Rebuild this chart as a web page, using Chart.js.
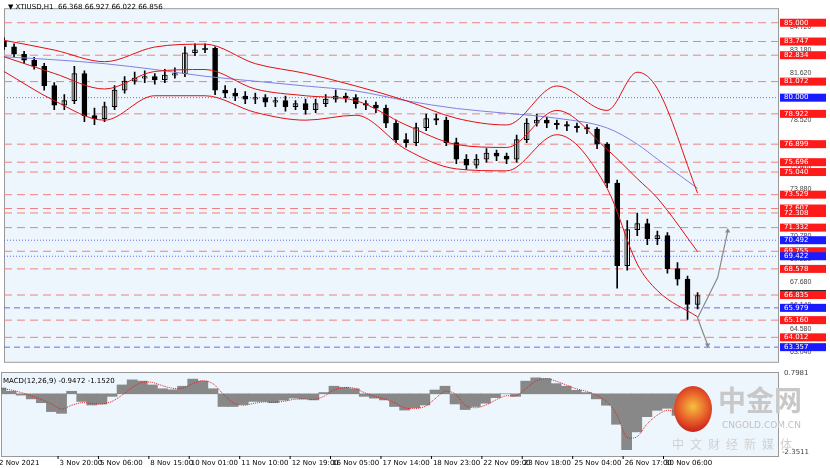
<!DOCTYPE html>
<html><head><meta charset="utf-8">
<script src="https://cdn.jsdelivr.net/npm/chart.js@4/dist/chart.umd.min.js"></script>
<style>
body{margin:0;width:830px;height:468px;background:#fff;font-family:"DejaVu Sans",sans-serif;position:relative;overflow:hidden}
#main{position:absolute;left:0;top:0}
#macd{position:absolute;left:0;top:370px}
.t{position:absolute;font-size:7px;color:#000}
#logo{position:absolute;left:672px;top:380px;width:150px;height:80px}
</style></head><body>
<canvas id="main" width="830" height="370"></canvas>
<canvas id="macd" width="830" height="98"></canvas>
<div class="t" style="left:8px;top:3px">▼ XTIUSD,H1 &nbsp;66.368 66.927 66.022 66.856</div>
<div class="t" style="left:3px;top:377px">MACD(12,26,9) -0.9472 -1.1520</div>
<div id="logo">
  <div style="position:absolute;left:2px;top:6px;width:38px;height:46px;border-radius:50%;background:radial-gradient(circle at 50% 45%,#f5c040 0,#e8602a 45%,#c8201a 80%)"></div>
  <div style="position:absolute;left:46px;top:2px;font:bold 28px/34px 'Noto Sans CJK SC';color:#c8c8c8;white-space:nowrap">中金网</div>
  <div style="position:absolute;left:50px;top:40px;font:9px 'DejaVu Sans';color:#c0c0c0;white-space:nowrap">CNGOLD.COM.CN</div>
  <div style="position:absolute;left:0px;top:56px;font:12px/16px 'Noto Sans CJK SC';color:#d0d0d0;letter-spacing:6px;white-space:nowrap">中文财经新媒体</div>
</div>
<script>
// price candles, one per ~10px column
const closes=[83.4,82.9,82.5,82.1,80.8,79.5,79.8,81.6,78.8,78.6,79.4,80.5,81.1,81.3,81.4,81.2,81.5,81.6,83.0,83.2,
83.3,80.5,80.3,80.1,79.9,80.0,79.7,79.8,79.4,79.6,79.2,79.6,79.9,80.1,80.0,79.6,79.5,79.3,78.3,77.2,
77.0,78.0,78.6,78.5,77.0,75.9,75.5,75.9,76.3,76.1,75.9,77.2,78.3,78.5,78.3,78.2,78.1,78.0,77.9,76.9,
74.3,68.8,71.2,71.6,70.6,70.8,68.6,67.9,66.2,66.8];
const opens=[83.8,83.4,82.9,82.5,82.1,80.8,79.5,79.8,81.6,78.8,78.6,79.4,80.5,81.1,81.3,81.4,81.2,81.5,81.6,83.0,
83.2,83.3,80.5,80.3,80.1,79.9,80.0,79.7,79.8,79.4,79.6,79.2,79.6,79.9,80.1,80.0,79.6,79.5,79.3,78.3,
77.2,77.0,78.0,78.6,78.5,77.0,75.9,75.5,75.9,76.3,76.1,75.9,77.2,78.3,78.5,78.3,78.2,78.1,78.0,77.9,
76.9,74.3,68.8,71.2,71.6,70.6,70.8,68.6,67.9,66.2];
const highs=[84.0,83.6,83.1,82.7,82.3,81.0,80.2,82.1,81.8,79.3,79.7,80.8,81.4,81.7,81.8,81.6,81.9,82.0,83.4,83.6,
83.6,83.4,80.8,80.6,80.4,80.3,80.2,80.0,80.1,79.8,79.9,79.9,80.2,80.5,80.3,80.2,79.8,79.7,79.5,78.5,
77.6,78.3,78.9,78.9,78.7,77.3,76.2,76.2,76.6,76.5,76.3,77.5,78.6,78.9,78.7,78.5,78.4,78.3,78.2,78.0,
77.0,74.5,71.8,72.3,71.9,71.1,71.0,69.0,68.1,67.0];
const lows=[83.2,82.7,82.3,81.9,80.5,79.2,79.2,79.6,78.4,78.2,78.4,79.2,80.3,80.9,81.0,80.9,81.0,81.3,81.4,82.8,
83.0,80.2,80.0,79.8,79.6,79.6,79.4,79.4,79.1,79.2,78.9,79.0,79.4,79.7,79.7,79.3,79.2,79.0,78.0,77.0,
76.7,76.8,77.8,78.2,76.8,75.6,75.2,75.3,75.7,75.8,75.6,75.7,77.0,78.1,78.0,77.9,77.8,77.7,77.6,76.6,
74.0,67.3,68.5,70.8,70.2,70.2,68.3,67.5,65.2,65.9];
// bands and moving average, every 5th column (last one at column 69)
const bandCols=[0,5,10,15,20,25,30,35,40,45,50,55,60,63,65,69];
const bbUpper=[83.83,83.18,82.40,83.38,83.57,82.27,81.62,80.78,79.80,78.63,78.18,80.78,79.15,81.70,80.60,73.63];
const bbMid=[82.73,81.62,80.58,81.75,81.88,80.58,80.13,79.80,78.18,76.88,76.68,79.15,76.55,74.60,73.30,69.73];
const bbLower=[81.75,79.80,78.50,80.13,80.13,79.02,78.50,78.83,76.55,75.25,75.12,77.53,73.95,68.90,67.13,65.38];
const maBlue=[82.73,82.53,82.27,81.88,81.43,81.10,80.78,80.45,79.80,79.28,78.96,78.63,77.98,76.90,75.90,73.95];
// projection arrows
const arrowUp=[[69,65.3],[71,68.0],[72,71.1]];
const arrowDown=[[69,65.3],[70,63.5]];
// MACD histogram and signal
const macdHist=[0.23,0.1,-0.05,-0.2,-0.35,-0.7,-0.77,0.1,-0.3,-0.44,-0.4,-0.1,0.35,0.55,0.5,0.35,0.2,0.16,0.3,0.58,
0.5,0.2,-0.5,-0.5,-0.42,-0.3,-0.3,-0.35,-0.25,-0.17,-0.2,-0.24,0.05,0.3,0.25,0.2,-0.1,-0.17,-0.24,-0.5,
-0.64,-0.55,-0.44,0.15,0.3,-0.4,-0.62,-0.5,-0.37,-0.15,0.0,-0.1,0.5,0.63,0.6,0.4,0.3,0.14,0.05,-0.2,
-0.45,-1.2,-2.2,-1.5,-0.9,-0.65,-0.57,-0.85,-1.05,-1.17];
const macdSignal=[0.2,0.15,0.05,-0.08,-0.22,-0.4,-0.6,-0.45,-0.35,-0.38,-0.4,-0.3,-0.05,0.25,0.45,0.45,0.32,0.22,0.22,0.4,
0.52,0.4,0.0,-0.35,-0.45,-0.38,-0.32,-0.33,-0.3,-0.22,-0.2,-0.22,-0.1,0.15,0.25,0.22,0.05,-0.1,-0.2,-0.35,
-0.55,-0.58,-0.5,-0.2,0.1,0.0,-0.45,-0.55,-0.45,-0.25,-0.08,-0.08,0.2,0.5,0.6,0.5,0.35,0.2,0.1,-0.05,
-0.3,-0.8,-1.7,-1.7,-1.2,-0.85,-0.65,-0.75,-0.95,-1.1];
const xTicks={0:"2 Nov 2021",6:"3 Nov 20:00",10:"5 Nov 06:00",15:"8 Nov 15:00",19:"10 Nov 01:00",24:"11 Nov 10:00",
29:"12 Nov 19:00",33:"16 Nov 05:00",38:"17 Nov 14:00",43:"18 Nov 23:00",48:"22 Nov 09:00",52:"23 Nov 18:00",
57:"25 Nov 04:00",62:"26 Nov 17:00",66:"30 Nov 06:00"};
const greyTicks=[84.72,83.18,81.62,80.06,78.52,76.96,75.40,73.88,72.32,70.78,69.22,67.68,66.14,64.58,63.04];
const redLevels=[85.000,83.747,82.834,81.072,78.922,76.899,75.696,75.040,73.529,72.607,72.308,71.332,69.755,68.578,65.160,64.012];
const blueLevels=[80.000,70.492,69.422,65.979,63.357];
const blackLevels=[66.835];

const N=78, labels=Array.from({length:N},(_,i)=>i);
const sparse=v=>{const a=new Array(N).fill(null);bandCols.forEach((c,k)=>a[c]=v[k]);return a;};
const AXW=52;

const levelPlugin={id:'levels',
  beforeDatasetsDraw(c){const {ctx,chartArea:a,scales:{y}}=c;ctx.save();
    const line=(v,col,dash)=>{const py=y.getPixelForValue(v);ctx.strokeStyle=col;ctx.setLineDash(dash);ctx.lineWidth=1;ctx.beginPath();ctx.moveTo(a.left,py);ctx.lineTo(a.right,py);ctx.stroke();};
    redLevels.forEach(v=>line(v,'#f08080',[8,5]));
    blueLevels.forEach((v,i)=>line(v,'#6a6af0',i<3?[1,2]:[6,4]));
    blackLevels.forEach(v=>line(v,'#f08080',[8,5]));
    ctx.restore();},
  afterDraw(c){const {ctx,chartArea:a,scales:{y}}=c;ctx.save();ctx.font='7px "DejaVu Sans"';ctx.textBaseline='middle';
    const box=(v,bg)=>{const py=y.getPixelForValue(v);ctx.fillStyle=bg;ctx.fillRect(a.right+2,py-4,46,8);ctx.fillStyle='#fff';ctx.fillText(v.toFixed(3),a.right+6,py);};
    redLevels.forEach(v=>box(v,'#ff1a1a'));blueLevels.forEach(v=>box(v,'#1a1aff'));
    blackLevels.forEach(v=>{const py=y.getPixelForValue(v);ctx.fillStyle='#222';ctx.fillRect(a.right+2,py-5,46,2);box(v,'#ff1a1a');});
    ctx.restore();}};
const bgPlugin={id:'bg',beforeDraw(c){const {ctx,chartArea:a}=c;ctx.save();ctx.fillStyle='#eef6fd';ctx.fillRect(a.left,a.top,a.width,a.height);
  ctx.strokeStyle='#999';ctx.strokeRect(a.left+0.5,a.top+0.5,a.width,a.height);ctx.restore();}};

const xBase={type:'category',display:false,offset:false,min:0,max:N-1};
const up=closes.map((c,i)=>c>=opens[i]);

new Chart(document.getElementById('main'),{
  data:{labels,datasets:[
    {type:'line',data:sparse(bbUpper),borderColor:'#e01010',borderWidth:1,pointRadius:0,spanGaps:true,cubicInterpolationMode:'monotone'},
    {type:'line',data:sparse(bbMid),borderColor:'#e01010',borderWidth:1,pointRadius:0,spanGaps:true,cubicInterpolationMode:'monotone'},
    {type:'line',data:sparse(bbLower),borderColor:'#e01010',borderWidth:1,pointRadius:0,spanGaps:true,cubicInterpolationMode:'monotone'},
    {type:'line',data:sparse(maBlue),borderColor:'#8080e0',borderWidth:1,pointRadius:0,spanGaps:true,cubicInterpolationMode:'monotone'},
    {type:'bar',data:lows.map((l,i)=>[l,highs[i]]),backgroundColor:'#000',barThickness:1,grouped:false},
    {type:'bar',data:opens.map((o,i)=>[o,closes[i]]),backgroundColor:up.map(u=>u?'#fff':'#000'),borderColor:'#000',borderWidth:1,borderSkipped:false,barThickness:5,grouped:false},
    {type:'line',data:arrowUp.map(p=>({x:p[0],y:p[1]})),borderColor:'#888',borderWidth:1.2,pointRadius:[0,0,3],pointStyle:'triangle',pointBackgroundColor:'#888',pointBorderWidth:0},
    {type:'line',data:arrowDown.map(p=>({x:p[0],y:p[1]})),borderColor:'#888',borderWidth:1.2,pointRadius:[0,3],pointStyle:'triangle',pointRotation:180,pointBackgroundColor:'#888',pointBorderWidth:0}
  ]},
  options:{responsive:false,animation:false,layout:{padding:{top:5,left:1,bottom:1}},
    plugins:{legend:{display:false},tooltip:{enabled:false}},
    scales:{x:xBase,
      y:{position:'right',min:62.38,max:85.97,grid:{display:false},border:{display:false},
        afterBuildTicks(s){s.ticks=greyTicks.map(v=>({value:v}));},
        afterFit(s){s.width=AXW;},
        ticks:{color:'#444',font:{size:7},padding:4,callback:v=>v.toFixed(3)}}}},
  plugins:[bgPlugin,levelPlugin]});

const xLabelPlugin={id:'xl',afterDraw(c){const {ctx,chartArea:a,scales:{x}}=c;ctx.save();ctx.font='7px "DejaVu Sans"';ctx.fillStyle='#000';
  Object.entries(xTicks).forEach(([i,t])=>{const px=x.getPixelForValue(+i)-4;ctx.fillRect(px,a.bottom,1,3);ctx.fillText(t,px+2,a.bottom+9);});
  ctx.fillStyle='#444';ctx.fillText('0.7981',a.right+6,a.top+3);ctx.fillText('-2.3511',a.right+4,a.bottom-2);ctx.restore();}};

new Chart(document.getElementById('macd'),{
  data:{labels,datasets:[
    {type:'line',data:macdSignal,borderColor:'#e02020',borderWidth:1,borderDash:[1,1],pointRadius:0,tension:0.3},
    {type:'bar',data:macdHist,backgroundColor:'#888',barPercentage:1,categoryPercentage:1}
  ]},
  options:{responsive:false,animation:false,layout:{padding:{top:2,left:1,bottom:12}},
    plugins:{legend:{display:false},tooltip:{enabled:false}},
    scales:{x:xBase,
      y:{position:'right',min:-2.45,max:0.86,grid:{display:false},border:{display:false},ticks:{display:false},afterFit(s){s.width=AXW;}}}},
  plugins:[bgPlugin,xLabelPlugin]});
</script></body></html>
